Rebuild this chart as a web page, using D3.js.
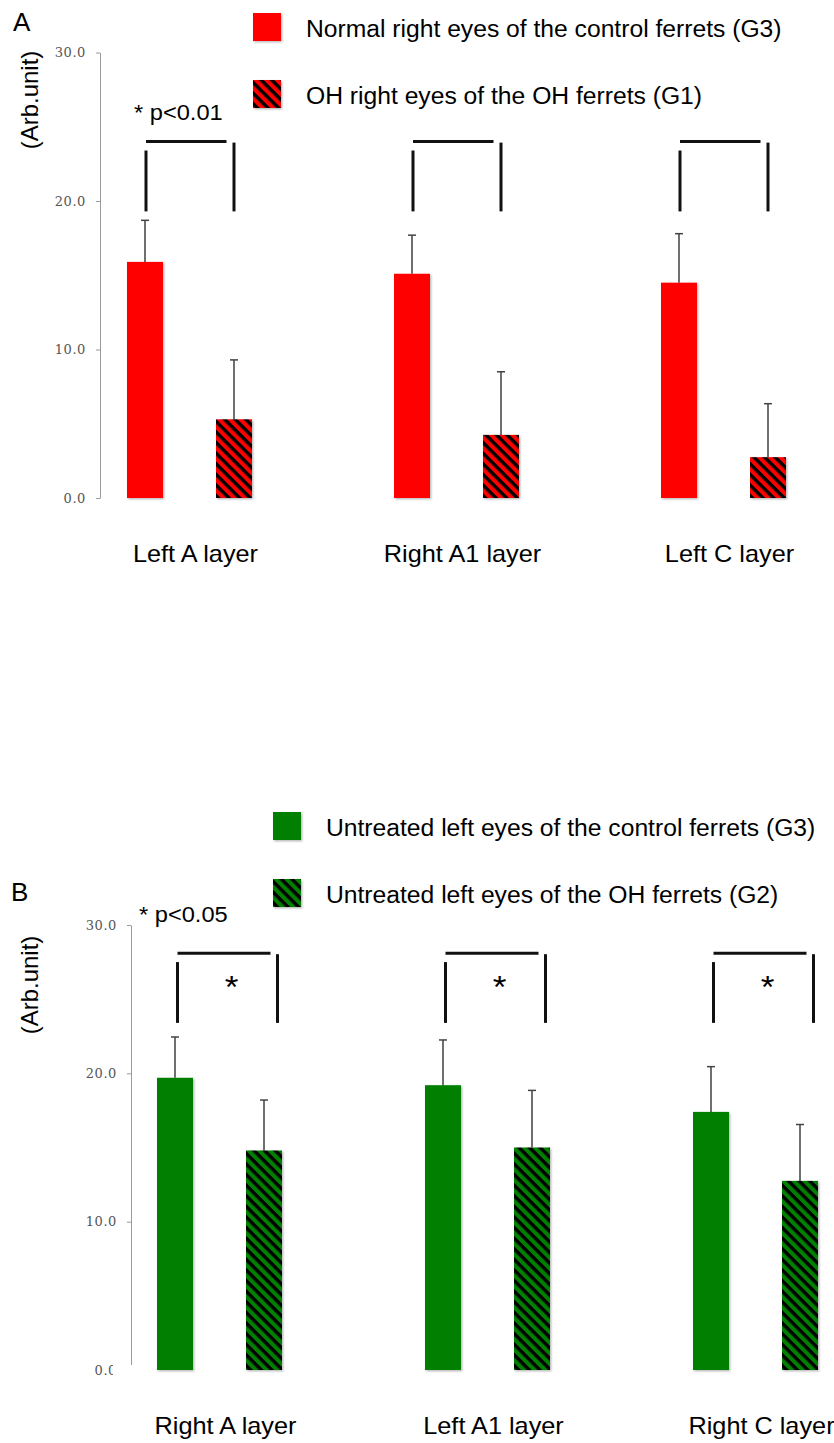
<!DOCTYPE html>
<html>
<head>
<meta charset="utf-8">
<script src="https://cdn.jsdelivr.net/npm/d3@7"></script>
<style>
  body { margin: 0; background: #fff; }
  text { font-family: "Liberation Sans", Arial, sans-serif; fill: #000; }
  .tick text { font-family: "DejaVu Serif", serif; fill: #555; }
</style>
</head>
<body>
<div id="chart"></div>
<script>
// ---- data ----
var yTicks = [0, 10, 20, 30];

var catsA = ["Left A layer", "Right A1 layer", "Left C layer"];
var seriesA = ["Normal right eyes of the control ferrets (G3)", "OH right eyes of the OH ferrets (G1)"];
var controlA = [15.9, 15.1, 14.5];
var controlErrA = [2.8, 2.6, 3.3];
var ohA = [5.3, 4.25, 2.75];
var ohErrA = [4.0, 4.25, 3.6];
var pTextA = "* p<0.01";

var catsB = ["Right A layer", "Left A1 layer", "Right C layer"];
var seriesB = ["Untreated left eyes of the control ferrets (G3)", "Untreated left eyes of the OH ferrets (G2)"];
var controlB = [19.7, 19.2, 17.4];
var controlErrB = [2.75, 3.05, 3.05];
var ohB = [14.8, 15.0, 12.75];
var ohErrB = [3.4, 3.85, 3.8];
var pTextB = "* p<0.05";

var W = 834, H = 1443;

var svg = d3.select("#chart").append("svg")
    .attr("width", W)
    .attr("height", H);

var defs = svg.append("defs");

// drop shadow used on bars, legend swatches and x axis line
defs.append("filter")
    .attr("id", "shadow")
    .attr("x", "-20%").attr("y", "-20%")
    .attr("width", "150%").attr("height", "150%")
    .append("feDropShadow")
    .attr("dx", 1.2).attr("dy", 1.2)
    .attr("stdDeviation", 1)
    .attr("flood-color", "#000")
    .attr("flood-opacity", 0.3);

// diagonal hatch "\\\" black on colour
function hatch(id, color) {
    var p = defs.append("pattern")
        .attr("id", id)
        .attr("patternUnits", "userSpaceOnUse")
        .attr("width", 7.5)
        .attr("height", 7.5)
        .attr("patternTransform", "rotate(45)");
    p.append("rect").attr("width", 7.5).attr("height", 7.5).attr("fill", color);
    p.append("rect").attr("width", 7.5).attr("height", 3.4).attr("fill", "#000");
}
hatch("hatchRed", "#ff0000");
hatch("hatchGreen", "#007f00");

function drawPanel(cfg) {
    var g = svg.append("g");

    var x0 = d3.scaleBand().domain(cfg.cats).range(cfg.xRange);
    var x1 = d3.scalePoint().domain([0, 1]).range([-44.5, 44.5]);
    var y = d3.scaleLinear().domain([0, 30]).range(cfg.yRange);
    var barW = 36;

    var data = cfg.cats.map(function(c, i) {
        return {
            cat: c,
            values: [
                { s: 0, v: cfg.control[i], e: cfg.controlErr[i] },
                { s: 1, v: cfg.oh[i], e: cfg.ohErr[i] }
            ]
        };
    });

    // y axis
    var yAxis = d3.axisLeft(y)
        .tickValues(yTicks)
        .tickFormat(d3.format(".1f"))
        .tickSize(4)
        .tickSizeOuter(0)
        .tickPadding(cfg.tickPad);
    var ya = g.append("g")
        .attr("transform", "translate(" + cfg.axisX + ",0)")
        .call(yAxis);
    ya.select(".domain").attr("stroke", "#999");
    ya.selectAll(".tick line").attr("stroke", "#999");
    ya.selectAll(".tick text")
        .style("font-size", "13px")
        .attr("letter-spacing", "0.6px");

    // x axis line (white strip under it hides part of the 0.0 label in B)
    g.append("rect")
        .attr("x", cfg.maskX).attr("y", y(0) - 5)
        .attr("width", cfg.baseX[1] - cfg.maskX).attr("height", 14)
        .attr("fill", "#fff");
    g.append("line")
        .attr("x1", cfg.baseX[0]).attr("x2", cfg.baseX[1])
        .attr("y1", y(0) + 3).attr("y2", y(0) + 3)
        .attr("stroke", "#aaa").attr("stroke-width", 2)
        .attr("filter", "url(#shadow)");

    // bars
    var groups = g.selectAll(".grp")
        .data(data)
        .enter().append("g")
        .attr("class", "grp")
        .attr("transform", function(d) { return "translate(" + (x0(d.cat) + x0.bandwidth() / 2) + ",0)"; });

    groups.selectAll("rect")
        .data(function(d) { return d.values; })
        .enter().append("rect")
        .attr("x", function(d) { return x1(d.s) - barW / 2; })
        .attr("y", function(d) { return y(d.v); })
        .attr("width", barW)
        .attr("height", function(d) { return y(0) - y(d.v); })
        .attr("fill", function(d) { return d.s === 0 ? cfg.color : "url(#" + cfg.hatchId + ")"; })
        .attr("filter", "url(#shadow)");

    // error bars (upper only)
    var eb = groups.selectAll(".err")
        .data(function(d) { return d.values; })
        .enter().append("g")
        .attr("class", "err");
    eb.append("line")
        .attr("x1", function(d) { return x1(d.s); })
        .attr("x2", function(d) { return x1(d.s); })
        .attr("y1", function(d) { return y(d.v); })
        .attr("y2", function(d) { return y(d.v + d.e); })
        .attr("stroke", "#222").attr("stroke-width", 1.3);
    eb.append("line")
        .attr("x1", function(d) { return x1(d.s) - 4; })
        .attr("x2", function(d) { return x1(d.s) + 4; })
        .attr("y1", function(d) { return y(d.v + d.e); })
        .attr("y2", function(d) { return y(d.v + d.e); })
        .attr("stroke", "#444").attr("stroke-width", 1.5);

    // significance brackets
    var br = cfg.bracket;
    var bk = groups.append("g").attr("stroke", "#111").attr("stroke-width", 3);
    bk.append("line")
        .attr("x1", br.left).attr("x2", br.hEnd)
        .attr("y1", y(br.top)).attr("y2", y(br.top));
    bk.append("line")
        .attr("x1", br.left).attr("x2", br.left)
        .attr("y1", y(br.leftTop)).attr("y2", y(br.bottom));
    bk.append("line")
        .attr("x1", br.right).attr("x2", br.right)
        .attr("y1", y(br.top) + 1).attr("y2", y(br.bottom));

    if (cfg.star) {
        groups.append("text")
            .attr("transform", "translate(" + br.star + "," + cfg.starY + ") scale(1.1,1)")
            .attr("text-anchor", "middle")
            .style("font-size", "32px")
            .text("*");
    }

    // category labels
    groups.append("text")
        .attr("transform", "translate(6," + cfg.catY + ") scale(1.1,1)")
        .attr("text-anchor", "middle")
        .style("font-size", "23px")
        .text(function(d) { return d.cat; });

    // p-value note
    g.append("text")
        .attr("transform", "translate(" + cfg.pPos[0] + "," + cfg.pPos[1] + ") scale(1.1,1)")
        .style("font-size", "21.5px")
        .text(cfg.pText);

    // panel letter
    g.append("text")
        .attr("x", cfg.letterPos[0]).attr("y", cfg.letterPos[1])
        .style("font-size", "26px")
        .text(cfg.letter);

    // y axis title
    g.append("text")
        .attr("transform", "translate(" + cfg.titlePos[0] + "," + cfg.titlePos[1] + ") rotate(-90)")
        .attr("text-anchor", "middle")
        .style("font-size", "24px")
        .text("(Arb.unit)");

    // legend
    var lg = g.selectAll(".leg")
        .data(cfg.series)
        .enter().append("g")
        .attr("class", "leg")
        .attr("transform", function(d, i) { return "translate(" + cfg.legend.x + "," + (cfg.legend.y + i * 67) + ")"; });
    lg.append("rect")
        .attr("width", 28).attr("height", 28)
        .attr("fill", function(d, i) { return i === 0 ? cfg.color : "url(#" + cfg.hatchId + ")"; })
        .attr("filter", "url(#shadow)");
    lg.append("text")
        .attr("transform", "translate(" + cfg.legend.textDx + ",24) scale(1.05,1)")
        .style("font-size", "23.5px")
        .text(function(d) { return d; });
}

drawPanel({
    letter: "A",
    letterPos: [13, 31],
    titlePos: [38, 100],
    cats: catsA, series: seriesA,
    control: controlA, controlErr: controlErrA,
    oh: ohA, ohErr: ohErrA,
    color: "#ff0000", hatchId: "hatchRed",
    xRange: [56, 857],
    yRange: [498, 52.5],
    axisX: 100, tickPad: 10,
    baseX: [120, 792], maskX: 120,
    catY: 562,
    pText: pTextA, pPos: [134, 120],
    bracket: { left: -43.5, right: 44.5, hEnd: 37, top: 24.0, leftTop: 23.4, bottom: 19.3 },
    star: false,
    legend: { x: 253, y: 13, textDx: 53 }
});

drawPanel({
    letter: "B",
    letterPos: [11, 901],
    titlePos: [38, 985],
    cats: catsB, series: seriesB,
    control: controlB, controlErr: controlErrB,
    oh: ohB, ohErr: ohErrB,
    color: "#007f00", hatchId: "hatchGreen",
    xRange: [85.5, 889.5],
    yRange: [1370, 925],
    axisX: 131, tickPad: 10,
    baseX: [117, 834], maskX: 113,
    catY: 1434,
    pText: pTextB, pPos: [139, 922],
    bracket: { left: -42, right: 58, hEnd: 51, top: 28.1, leftTop: 27.5, bottom: 23.4, star: 12 },
    star: true, starY: 998,
    legend: { x: 273, y: 812, textDx: 53 }
});
</script>
</body>
</html>
